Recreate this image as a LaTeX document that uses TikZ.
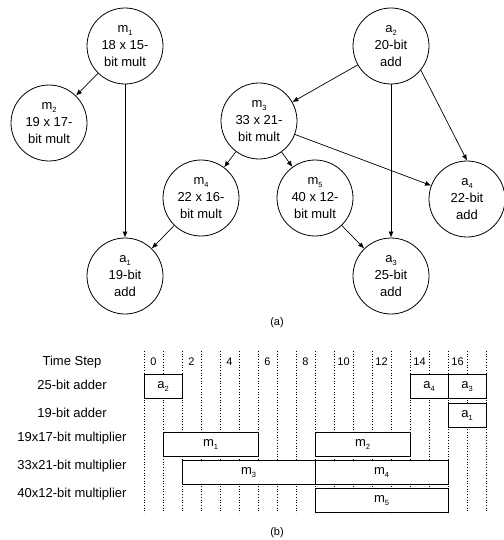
\documentclass[tikz,border=0pt]{standalone}
\usepackage{fontspec}
\setmainfont{Liberation Sans}
\usetikzlibrary{arrows.meta}
\newcommand{\lowsub}[1]{\raisebox{-3pt}{\fontsize{7.5}{8}\selectfont #1}}
\begin{document}
\begin{tikzpicture}[x=1pt,y=-1pt,
  op/.style={circle,draw,line width=0.8pt,minimum size=76pt,inner sep=0pt,align=center,font=\fontsize{13}{17}\selectfont},
  arr/.style={line width=0.7pt,-{Latex[length=6pt,width=5pt]}},
  bar/.style={draw,line width=0.8pt,fill=white,minimum height=24pt,inner sep=0pt,font=\fontsize{13}{15}\selectfont},
  rowlab/.style={font=\fontsize{13}{15}\selectfont},
  small/.style={font=\fontsize{11}{13}\selectfont},
  gridline/.style={dotted,line width=0.7pt}
]
\useasboundingbox (0,0) rectangle (503,540);
% (a) graph
\node[op] (m1) at (125,46) {m\lowsub{1}\\18 x 15-\\bit mult};
\node[op] (a2) at (391,46) {a\lowsub{2}\\20-bit\\add};
\node[op] (m2) at (49,123) {m\lowsub{2}\\19 x 17-\\bit mult};
\node[op] (m3) at (259,121) {m\lowsub{3}\\33 x 21-\\bit mult};
\node[op] (m4) at (201,198) {m\lowsub{4}\\22 x 16-\\bit mult};
\node[op] (m5) at (315,198) {m\lowsub{5}\\40 x 12-\\bit mult};
\node[op] (a4) at (467,199) {a\lowsub{4}\\22-bit\\add};
\node[op] (a1) at (125,276) {a\lowsub{1}\\19-bit\\add};
\node[op] (a3) at (391,276) {a\lowsub{3}\\25-bit\\add};
\draw[arr] (m1) -- (m2);
\draw[arr] (m1) -- (a1);
\draw[arr] (m4) -- (a1);
\draw[arr] (a2) -- (m3);
\draw[arr] (a2) -- (a3);
\draw[arr] (a2.-39) -- (a4.north);
\draw[arr] (m3) -- (m4);
\draw[arr] (m3) -- (m5);
\draw[arr] (m3) -- (a4);
\draw[arr] (m5) -- (a3);
\node[small] (capa) at (277,323) {(a)};
% (b) schedule
\foreach \k in {0,...,18} \draw[gridline] (144+19*\k,351) -- (144+19*\k,513);
\foreach \n in {0,2,...,16} \node[small] (t\n) at (153.5+19*\n,362) {\n};
\node[rowlab] (r0) at (72,362) {Time Step};
\node[rowlab] (r1) at (72,385) {25-bit adder};
\node[rowlab] (r2) at (72,413) {19-bit adder};
\node[rowlab] (r3) at (72,438) {19x17-bit multiplier};
\node[rowlab] (r4) at (72,466) {33x21-bit multiplier};
\node[rowlab] (r5) at (72,494) {40x12-bit multiplier};
\node[bar,minimum width=38pt] (ba2) at (163,386.5) {a\lowsub{2}};
\node[bar,minimum width=38pt] (ba4) at (429,386.5) {a\lowsub{4}};
\node[bar,minimum width=38pt] (ba3) at (467,386.5) {a\lowsub{3}};
\node[bar,minimum width=38pt] (ba1) at (467,415) {a\lowsub{1}};
\node[bar,minimum width=95pt] (bm1) at (210.5,444) {m\lowsub{1}};
\node[bar,minimum width=95pt] (bm2) at (362.5,444) {m\lowsub{2}};
\node[bar,minimum width=133pt] (bm3) at (248.5,472.5) {m\lowsub{3}};
\node[bar,minimum width=133pt] (bm4) at (381.5,472.5) {m\lowsub{4}};
\node[bar,minimum width=133pt] (bm5) at (381.5,500.5) {m\lowsub{5}};
\node[small] (capb) at (277,533) {(b)};
\end{tikzpicture}
\end{document}
